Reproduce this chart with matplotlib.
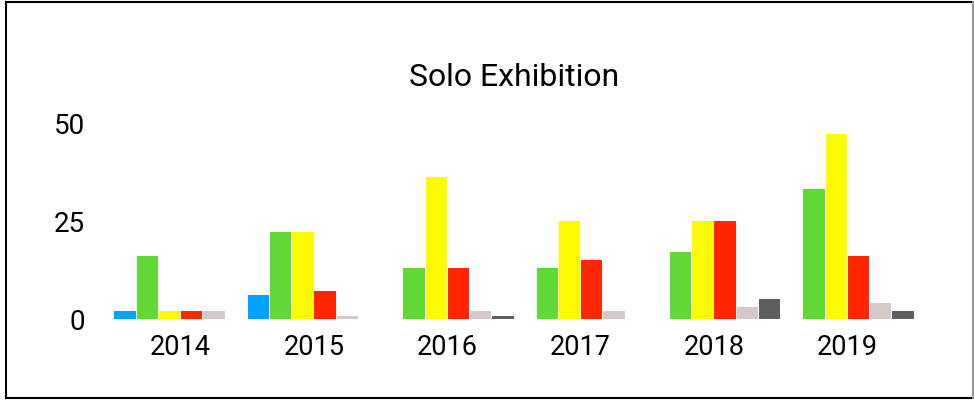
import numpy as np
import matplotlib
matplotlib.use("Agg")
import matplotlib.pyplot as plt
from matplotlib.lines import Line2D

plt.rcParams['font.family'] = ['Roboto', 'DejaVu Sans']

years = ['2014', '2015', '2016', '2017', '2018', '2019']
blue = [2, 6, 0, 0, 0, 0]
green = [16, 22, 13, 13, 17, 33]
yellow = [2, 22, 36, 25, 25, 47]
red = [2, 7, 13, 15, 25, 16]
light_gray = [2, 0.8, 2, 2, 3, 4]
dark_gray = [0, 0, 0.8, 0, 5, 2]
y_ticks = [0, 25, 50]

series = [blue, green, yellow, red, light_gray, dark_gray]
colors = ['#00A2FF', '#61D836', '#FFFA00', '#FF2600', '#D5C8C8', '#5E5E5E']

fig = plt.figure(figsize=(9.74, 4.02), dpi=100)
ax = fig.add_axes([114 / 974, 1 - 320 / 402, 800 / 974, 197 / 402])

x = np.arange(len(years))
slot = 1 / len(series)
for j, (vals, c) in enumerate(zip(series, colors)):
    ax.bar(x + (j - 2.5) * slot, vals, width=slot * 0.96, color=c, linewidth=0)

ax.set_xlim(-0.5, len(years) - 0.5)
ax.set_ylim(0, 50)
ax.set_xticks(x)
ax.set_xticklabels(years, fontsize=19.5)
ax.set_yticks(y_ticks)
ax.set_yticklabels([str(v) for v in y_ticks], fontsize=20)
ax.tick_params(length=0)
ax.tick_params(axis='x', pad=10)
ax.tick_params(axis='y', pad=21)
for s in ax.spines.values():
    s.set_visible(False)

ax.set_title('Solo Exhibition', fontsize=23, pad=27)

# frame around the whole picture
W, H = 974, 402
lw = 1.5
fig.add_artist(Line2D([6 / W, 973 / W], [1 - 3 / H, 1 - 3 / H], color='black', lw=lw))
fig.add_artist(Line2D([6 / W, 973 / W], [1 - 399 / H, 1 - 399 / H], color='black', lw=lw))
fig.add_artist(Line2D([6 / W, 6 / W], [1 - 3 / H, 1 - 399 / H], color='black', lw=lw))
fig.add_artist(Line2D([972.5 / W, 972.5 / W], [1 - 3 / H, 1 - 399 / H], color='#999999', lw=lw))

fig.savefig('out.png', dpi=100)
